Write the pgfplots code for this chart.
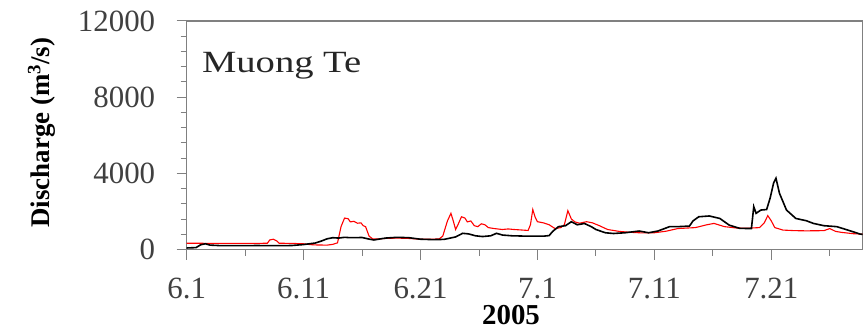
\documentclass[border=0pt]{standalone}
\usepackage{pgfplots}
\pgfplotsset{compat=1.18}
\usepackage{fontspec}
\setmainfont{Liberation Serif}
\begin{document}
\begin{tikzpicture}
\begin{axis}[
  at={(0,0)}, anchor=south west,
  scale only axis, width=675.8bp, height=228.5bp,
  xmin=0, xmax=57.8, ymin=0, ymax=12000,
  enlargelimits=false,
  scaled y ticks=false, scaled x ticks=false,
  /pgf/number format/assume math mode=true,
  axis line style={draw=black!50, line width=1.2bp},
  tick style={draw=black!50, line width=1bp},
  tick align=outside,
  major tick length=10bp, minor tick length=6bp,
  xtick={0,10,20,30,40,50}, xticklabels={6.1,6.11,6.21,7.1,7.11,7.21},
  minor xtick={5,15,25,35,45,55},
  ytick={0,4000,8000,12000}, yticklabels={0,4000,8000,12000},
  minor y tick num=4,
  xtick pos=bottom, ytick pos=left,
  ticklabel style={font=\fontsize{31}{34}\selectfont, text=black!75},
  xticklabel style={yshift=-15bp},
  yticklabel style={xshift=-18bp},
  ylabel={\textbf{Discharge (m\textsuperscript{3}/s)}},
  every axis y label/.style={at={(axis description cs:0,0.5)}, xshift=-145bp, yshift=2.7bp, rotate=90, anchor=center, font=\fontsize{27}{30}\selectfont},
  xlabel={\textbf{2005}},
  every axis x label/.style={at={(axis description cs:0,0)}, xshift=324.3bp, yshift=-66bp, anchor=center, font=\fontsize{29}{32}\selectfont},
  clip=true,
]
\addplot[red, line width=1.1bp] coordinates {
(0,330)(1,330)(2,320)(3,320)(4,320)(5,320)(6,320)(6.9,330)(7.1,500)(7.4,540)(7.7,450)(7.9,330)
(9,320)(10,300)(10.5,260)(11,240)(12,230)(12.5,270)(12.9,350)(13.2,1200)(13.5,1650)(13.8,1620)
(14.0,1450)(14.3,1480)(14.6,1380)(14.9,1400)(15.1,1250)(15.3,1200)(15.6,700)(15.9,560)(16.5,560)
(17,580)(18,600)(19,580)(20,540)(21,540)(21.6,560)(21.9,700)(22.3,1500)(22.6,1900)(22.8,1500)
(23.0,1050)(23.2,1300)(23.5,1720)(23.8,1650)(24.0,1450)(24.3,1500)(24.6,1250)(24.9,1200)(25.2,1350)
(25.5,1300)(25.8,1150)(26.3,1100)(27,1050)(27.5,1080)(28,1050)(28.5,1030)(29.2,1000)(29.4,1300)
(29.6,2100)(29.8,1700)(30.0,1460)(30.5,1400)(31,1300)(31.5,1100)(32,1150)(32.3,1300)(32.6,2040)
(32.9,1600)(33.2,1450)(33.6,1380)(34.2,1460)(34.7,1400)(35.3,1250)(36,1050)(37,950)(38,900)
(39,870)(40,880)(41,960)(42,1100)(43.5,1150)(44.5,1300)(45.1,1370)(46,1200)(47,1130)(48,1120)
(49,1150)(49.4,1400)(49.7,1780)(50.0,1500)(50.3,1150)(51,1020)(52,990)(53,980)(54.5,990)(55,1100)
(55.5,950)(56,900)(57,830)(58,800)
};
\addplot[black, line width=1.6bp] coordinates {
(0,80)(0.8,100)(1.2,250)(1.6,300)(2,230)(3,200)(4,200)(5,200)(6,210)(7,200)(8,200)(9,210)
(10,260)(11,340)(11.5,440)(12,560)(12.5,620)(13,600)(13.5,640)(14,620)(15,630)(15.5,560)(16,500)
(17,600)(18,640)(19,620)(20,540)(21,520)(22,530)(23,660)(23.6,850)(24.1,820)(24.7,720)(25.3,680)
(26,720)(26.5,850)(27,760)(27.8,720)(28.5,710)(29,700)(30,700)(30.5,700)(31,730)(31.3,950)
(31.8,1200)(32.4,1250)(32.9,1460)(33.4,1300)(33.8,1340)(34.0,1370)(34.6,1200)(35,1050)(35.8,880)
(36.5,840)(37.5,880)(38.7,970)(39.5,880)(40.3,970)(41.3,1200)(42,1200)(43,1230)(43.3,1500)
(43.8,1720)(44.7,1760)(45.6,1630)(46.4,1280)(47.3,1110)(48.3,1100)(48.5,2250)(48.7,1900)
(49.1,2070)(49.6,2100)(49.9,2700)(50.2,3500)(50.4,3740)(50.7,2950)(51.3,2070)(52.1,1630)
(53.0,1510)(53.6,1370)(54.5,1250)(55.6,1200)(56.7,990)(57.6,810)(58,780)
};
\node[anchor=base west, inner sep=0pt, text=black!85] at (axis cs:1.3,9270) {\scalebox{1.25}[1]{\fontsize{31}{34}\selectfont Muong Te}};
\end{axis}
\pgfresetboundingbox
\path[use as bounding box] (-186.7bp,-83.5bp) rectangle (680.3bp,249.5bp);
\end{tikzpicture}
\end{document}
